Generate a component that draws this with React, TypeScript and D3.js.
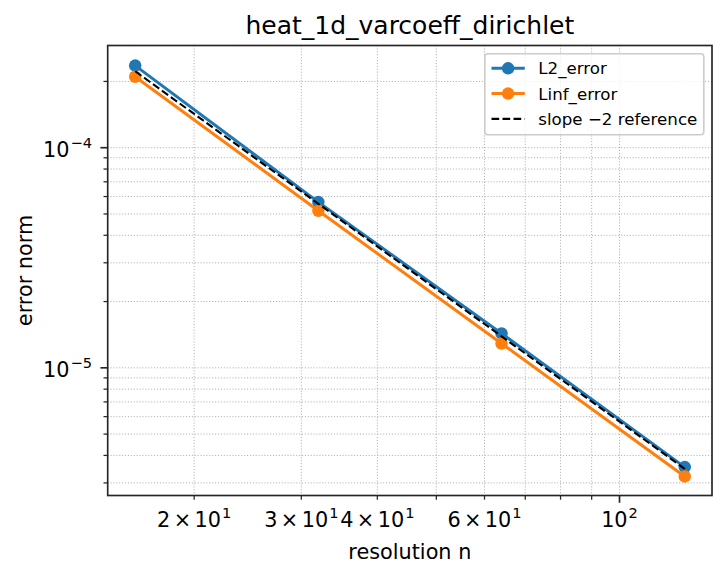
import React from "react";
import * as d3 from "d3";

const resolutions = [16, 32, 64, 128];
const l2Error = [2.36e-4, 5.66e-5, 1.433e-5, 3.54e-6];
const linfError = [2.1e-4, 5.17e-5, 1.29e-5, 3.21e-6];
const slopeRef = [2.225e-4, 5.56e-5, 1.39e-5, 3.476e-6];

const xTickValues = [20, 30, 40, 60, 100];
const xTickMant = ["2", "3", "4", "6", ""];
const xTickExp = ["1", "1", "1", "1", "2"];
const xMinorTicks = [20, 30, 40, 50, 60, 70, 80, 90];
const yMajorTicks = [1e-5, 1e-4];
const yMajorExp = ["−5", "−4"];
const yMinorTicks = [3e-6, 4e-6, 5e-6, 6e-6, 7e-6, 8e-6, 9e-6, 2e-5, 3e-5, 4e-5, 5e-5, 6e-5, 7e-5, 8e-5, 9e-5, 2e-4];

const legendLabels = ["L2_error", "Linf_error", "slope −2 reference"];

const W = 727, H = 580;
const L = 107.7, R = 712, T = 45.5, B = 495.5;
const FONT = "DejaVu Sans, sans-serif";
const BLUE = "#1f77b4", ORANGE = "#ff7f0e";
const FS = 20.8, SUP = 14.6;

export default function App() {
  const x = d3.scaleLog().domain([14.42, 141.9]).range([L, R]);
  const y = d3.scaleLog().domain([2.63e-6, 2.913e-4]).range([B, T]);
  const line = d3.line<[number, number]>().x(d => x(d[0])).y(d => y(d[1]));
  const pts = (vals: number[]) => resolutions.map((n, i) => [n, vals[i]] as [number, number]);

  const gridColor = "#b0b0b0";
  const legX = 484.8, legY = 53.8, legW = 219, legH = 81;
  const rowH = 25.3;

  return (
    <svg width={W} height={H} style={{ position: "absolute", left: 0, top: 0, background: "#fff" }} fontFamily={FONT}>
      <rect x={0} y={0} width={W} height={H} fill="#fff" />
      {/* grid */}
      <g stroke={gridColor} strokeWidth={1} strokeDasharray="1.1,1.8">
        {[...xMinorTicks, 100].map((v, i) => (
          <line key={"gx" + i} x1={x(v)} x2={x(v)} y1={T} y2={B} />
        ))}
        {[...yMinorTicks, ...yMajorTicks].map((v, i) => (
          <line key={"gy" + i} x1={L} x2={R} y1={y(v)} y2={y(v)} />
        ))}
      </g>
      {/* series */}
      <path d={line(pts(l2Error))!} fill="none" stroke={BLUE} strokeWidth={3} />
      {pts(l2Error).map((p, i) => (
        <circle key={"a" + i} cx={x(p[0])} cy={y(p[1])} r={6.25} fill={BLUE} />
      ))}
      <path d={line(pts(linfError))!} fill="none" stroke={ORANGE} strokeWidth={3} />
      {pts(linfError).map((p, i) => (
        <circle key={"b" + i} cx={x(p[0])} cy={y(p[1])} r={6.25} fill={ORANGE} />
      ))}
      <path d={line(pts(slopeRef))!} fill="none" stroke="#000" strokeWidth={2.08} strokeDasharray="7.7,3.3" />
      {/* spines */}
      <rect x={L} y={T} width={R - L} height={B - T} fill="none" stroke="#262626" strokeWidth={1.67} />
      {/* x ticks */}
      {xMinorTicks.map((v, i) => (
        <line key={"xt" + i} x1={x(v)} x2={x(v)} y1={B} y2={B + 4.2} stroke="#262626" strokeWidth={1.25} />
      ))}
      <line x1={x(100)} x2={x(100)} y1={B} y2={B + 7.3} stroke="#262626" strokeWidth={1.67} />
      {xTickValues.map((v, i) => (
        <text key={"xl" + i} x={x(v)} y={526.7} textAnchor="middle" fontSize={FS} fill="#000">
          {xTickMant[i] ? (
            <>
              <tspan>{xTickMant[i]}</tspan>
              <tspan dx={3.4}>×</tspan>
              <tspan dx={3.4}>10</tspan>
            </>
          ) : (
            <tspan>10</tspan>
          )}
          <tspan dx={1} dy={-8.5} fontSize={SUP}>{xTickExp[i]}</tspan>
        </text>
      ))}
      {/* y ticks */}
      {yMinorTicks.map((v, i) => (
        <line key={"yt" + i} x1={L - 4.2} x2={L} y1={y(v)} y2={y(v)} stroke="#262626" strokeWidth={1.25} />
      ))}
      {yMajorTicks.map((v, i) => (
        <g key={"ym" + i}>
          <line x1={L - 7.3} x2={L} y1={y(v)} y2={y(v)} stroke="#262626" strokeWidth={1.67} />
          <text x={92} y={y(v) + 9} textAnchor="end" fontSize={FS} fill="#000">
            10<tspan dx={1} dy={-8.5} fontSize={SUP}>{yMajorExp[i]}</tspan>
          </text>
        </g>
      ))}
      {/* labels */}
      <text x={(L + R) / 2} y={33.5} textAnchor="middle" fontSize={25} fill="#000">heat_1d_varcoeff_dirichlet</text>
      <text x={(L + R) / 2} y={559.3} textAnchor="middle" fontSize={FS} fill="#000">resolution n</text>
      <text transform={`translate(31.5,${(T + B) / 2}) rotate(-90)`} textAnchor="middle" fontSize={FS} fill="#000">error norm</text>
      {/* legend */}
      <rect x={legX} y={legY} width={legW} height={legH} rx={3} fill="#fff" fillOpacity={0.8} stroke="#cccccc" strokeWidth={1.6} />
      {legendLabels.map((lab, i) => {
        const cy = legY + 14.5 + i * rowH;
        const color = i === 0 ? BLUE : i === 1 ? ORANGE : "#000";
        return (
          <g key={"lg" + i}>
            {i < 2 ? (
              <>
                <line x1={legX + 6.7} x2={legX + 40} y1={cy} y2={cy} stroke={color} strokeWidth={3} />
                <circle cx={legX + 23.3} cy={cy} r={6.25} fill={color} />
              </>
            ) : (
              <line x1={legX + 6.7} x2={legX + 40} y1={cy} y2={cy} stroke="#000" strokeWidth={2.08} strokeDasharray="7.7,3.3" />
            )}
            <text x={legX + 53.5} y={cy + 6} fontSize={16.67} fill="#000">{lab}</text>
          </g>
        );
      })}
    </svg>
  );
}
